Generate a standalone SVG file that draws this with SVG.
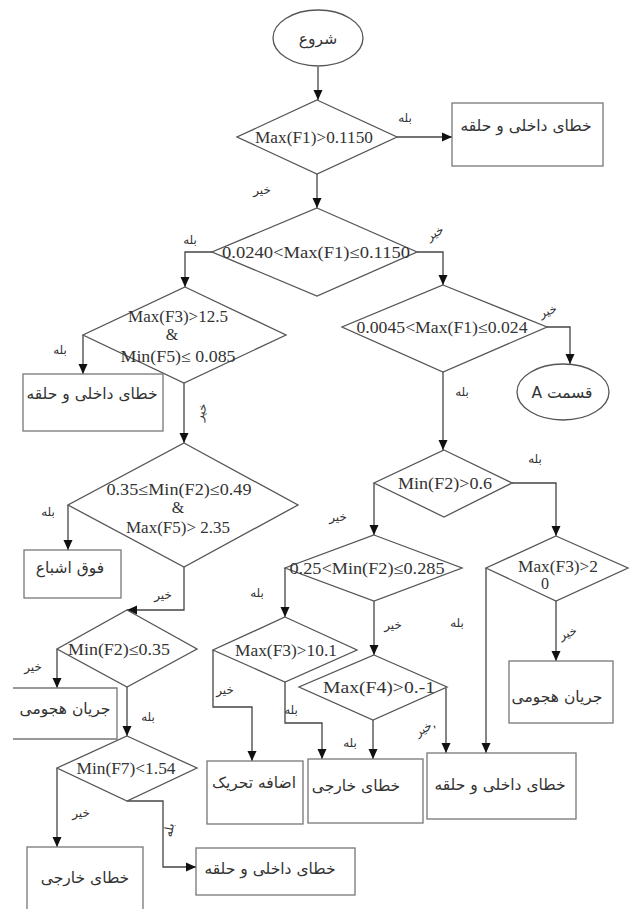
<svg xmlns="http://www.w3.org/2000/svg" width="630" height="909" viewBox="0 0 630 909">
<defs>
<marker id="ah" markerUnits="userSpaceOnUse" markerWidth="10" markerHeight="10" refX="10" refY="5" orient="auto">
<path d="M0,0.5 L10,5 L0,9.5 z" fill="#111"/>
</marker>
<style>
.bg{fill:#fff}
.sh{fill:#fff;stroke:#555;stroke-width:1.3}
.bx{fill:#fff;stroke:#777;stroke-width:1.3}
.ln{fill:none;stroke:#444;stroke-width:1.3;marker-end:url(#ah)}
.lt{font-family:"Liberation Serif","DejaVu Serif",serif;font-size:16px;fill:#333;text-anchor:middle}
.fa{font-family:"DejaVu Sans","Noto Sans",sans-serif;font-size:15.5px;fill:#333;text-anchor:middle}
.lb{font-family:"DejaVu Sans","Noto Sans",sans-serif;font-size:12px;fill:#333;text-anchor:middle}
</style>
</defs>
<rect class="bg" x="0" y="0" width="630" height="909"/>

<g id="connectors">
<path class="ln" d="M318,67 V100"/>
<path class="ln" d="M397,137 H452"/>
<path class="ln" d="M317,174 V208"/>
<path class="ln" d="M212,252 H185 V287"/>
<path class="ln" d="M417,252 H443 V285"/>
<path class="ln" d="M547,327 H570 V364"/>
<path class="ln" d="M443,372 V450"/>
<path class="ln" d="M512,483 H556 V536"/>
<path class="ln" d="M374,483 V535"/>
<path class="ln" d="M556,601 V661"/>
<path class="ln" d="M486,568 V753"/>
<path class="ln" d="M285,568 V617"/>
<path class="ln" d="M374,601 V655"/>
<path class="ln" d="M446,687 V753"/>
<path class="ln" d="M373,720 V759"/>
<path class="ln" d="M213,650 V707 H252 V761"/>
<path class="ln" d="M285,682 V723 H322 V759"/>
<path class="ln" d="M83,335 V374"/>
<path class="ln" d="M184,383 V443"/>
<path class="ln" d="M68,505 V550"/>
<path class="ln" d="M184,567 V610 H127"/>
<path class="ln" d="M57,649 V688"/>
<path class="ln" d="M127,687 V736"/>
<path class="ln" d="M57,768 V847"/>
<path class="ln" d="M127,801 H163 V867 H196"/>
<g id="edge-labels">
<text class="lb" x="405" y="122">بله</text>
<text class="lb" x="262" y="194">خیر</text>
<text class="lb" x="190" y="244">بله</text>
<text class="lb" x="435" y="237" transform="rotate(-30 435 233)">خیر</text>
<text class="lb" x="548" y="315" transform="rotate(-20 548 311)">خیر</text>
<text class="lb" x="462" y="396">بله</text>
<text class="lb" x="60" y="354">بله</text>
<text class="lb" x="201" y="416" transform="rotate(-75 201 412)">خیر</text>
<text class="lb" x="48" y="516">بله</text>
<text class="lb" x="163" y="599">خیر</text>
<text class="lb" x="535" y="463">بله</text>
<text class="lb" x="338" y="521">خیر</text>
<text class="lb" x="257" y="597">بله</text>
<text class="lb" x="393" y="629">خیر</text>
<text class="lb" x="457" y="627">بله</text>
<text class="lb" x="568" y="637" transform="rotate(-20 568 633)">خیر</text>
<text class="lb" x="225" y="694">خیر</text>
<text class="lb" x="291" y="714">بله</text>
<text class="lb" x="350" y="747">بله</text>
<text class="lb" x="425" y="732" transform="rotate(-30 425 728)">خیر,</text>
<text class="lb" x="33" y="671">خیر</text>
<text class="lb" x="148" y="721">بله</text>
<text class="lb" x="81" y="817">خیر</text>
<text class="lb" x="169" y="834" transform="rotate(-80 169 830)">بله</text>
</g>
</g>

<g id="start"><ellipse class="sh" cx="318" cy="38" rx="45" ry="28"/><text class="fa" x="318" y="44">شروع</text></g>

<g id="d1"><polygon class="sh" points="317,100 397,137 317,174 237,137"/><text class="lt" x="314" y="143" textLength="118" lengthAdjust="spacingAndGlyphs">Max(F1)&gt;0.1150</text></g>
<g id="b1"><rect class="bx" x="452" y="103" width="151" height="63"/><text class="fa" x="526" y="131">خطای داخلی و حلقه</text></g>

<g id="d2"><polygon class="sh" points="317,208 417,252 317,296 212,252"/><text class="lt" x="316" y="258" textLength="188" lengthAdjust="spacingAndGlyphs">0.0240&lt;Max(F1)≤0.1150</text></g>

<g id="d3"><polygon class="sh" points="185,287 286,335 184,383 83,335"/>
<text class="lt" x="178" y="322" textLength="100" lengthAdjust="spacingAndGlyphs">Max(F3)&gt;12.5</text>
<text class="lt" x="172" y="340">&amp;</text>
<text class="lt" x="178" y="362" textLength="115" lengthAdjust="spacingAndGlyphs">Min(F5)≤ 0.085</text></g>
<g id="b2"><rect class="bx" x="23" y="374" width="140" height="57"/><text class="fa" x="92" y="399">خطای داخلی و حلقه</text></g>

<g id="d4"><polygon class="sh" points="443,285 547,327 443,372 342,327"/><text class="lt" x="442" y="333" textLength="171" lengthAdjust="spacingAndGlyphs">0.0045&lt;Max(F1)≤0.024</text></g>
<g id="partA"><ellipse class="sh" cx="563" cy="392" rx="46" ry="28"/><text class="fa" x="562" y="398" direction="rtl">قسمت A</text></g>

<g id="d10"><polygon class="sh" points="184,443 298,505 184,567 68,505"/>
<text class="lt" x="179" y="495" textLength="145" lengthAdjust="spacingAndGlyphs">0.35≤Min(F2)≤0.49</text>
<text class="lt" x="178" y="513">&amp;</text>
<text class="lt" x="178" y="533" textLength="104" lengthAdjust="spacingAndGlyphs">Max(F5)&gt; 2.35</text></g>
<g id="b3"><rect class="bx" x="24" y="550" width="97" height="48"/><text class="fa" x="70" y="573">فوق اشباع</text></g>

<g id="d5"><polygon class="sh" points="444,450 512,483 444,517 374,483"/><text class="lt" x="445" y="489" textLength="94" lengthAdjust="spacingAndGlyphs">Min(F2)&gt;0.6</text></g>

<g id="d6"><polygon class="sh" points="374,535 462,568 374,601 285,568"/><text class="lt" x="367" y="574" textLength="155" lengthAdjust="spacingAndGlyphs">0.25&lt;Min(F2)≤0.285</text></g>

<g id="d7"><polygon class="sh" points="556,536 628,568 556,601 486,568"/>
<text class="lt" x="558" y="572" textLength="80" lengthAdjust="spacingAndGlyphs">Max(F3)&gt;2</text>
<text class="lt" x="545" y="589">0</text></g>
<g id="b10"><rect class="bx" x="509" y="661" width="104" height="62"/><text class="fa" x="557" y="702">جریان هجومی</text></g>

<g id="d8"><polygon class="sh" points="285,617 357,650 285,682 213,650"/><text class="lt" x="286" y="656" textLength="102" lengthAdjust="spacingAndGlyphs">Max(F3)&gt;10.1</text></g>

<g id="d9"><polygon class="sh" points="374,655 447,687 373,720 299,687"/><text class="lt" x="379" y="693" textLength="112" lengthAdjust="spacingAndGlyphs">Max(F4)&gt;0.-1</text></g>

<g id="b7"><rect class="bx" x="207" y="761" width="96" height="63"/><text class="fa" x="254" y="788">اضافه تحریک</text></g>
<g id="b8"><rect class="bx" x="308" y="759" width="115" height="64"/><text class="fa" x="356" y="791">خطای خارجی</text></g>
<g id="b9"><rect class="bx" x="427" y="753" width="149" height="66"/><text class="fa" x="500" y="790">خطای داخلی و حلقه</text></g>

<g id="d11"><polygon class="sh" points="127,610 197,649 127,687 57,649"/><text class="lt" x="119" y="655" textLength="102" lengthAdjust="spacingAndGlyphs">Min(F2)≤0.35</text></g>
<g id="b4"><path class="bx" d="M13,688 H117 V739 H13"/><text class="fa" x="65" y="714">جریان هجومی</text></g>

<g id="d12"><polygon class="sh" points="127,736 197,768 127,801 57,768"/><text class="lt" x="126" y="774" textLength="99" lengthAdjust="spacingAndGlyphs">Min(F7)&lt;1.54</text></g>
<g id="b5"><rect class="bx" x="27" y="847" width="116" height="70"/><text class="fa" x="85" y="883">خطای خارجی</text></g>
<g id="b6"><rect class="bx" x="196" y="848" width="159" height="47"/><text class="fa" x="270" y="874">خطای داخلی و حلقه</text></g>
</svg>
